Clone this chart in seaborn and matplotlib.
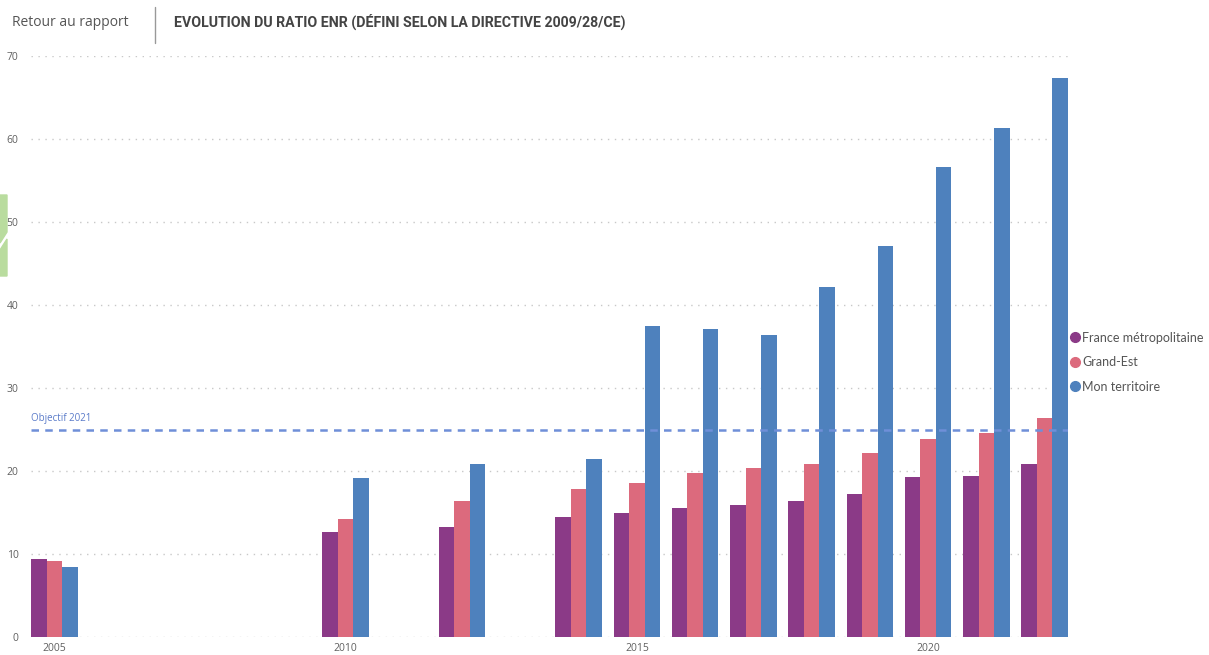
import pandas as pd
import matplotlib.pyplot as plt
import seaborn as sns
from matplotlib.lines import Line2D
from matplotlib.patches import Polygon

# Data
annees = [2005, 2010, 2012, 2014, 2015, 2016, 2017, 2018, 2019, 2020, 2021, 2022]
france = [9.4, 12.7, 13.3, 14.4, 14.9, 15.5, 15.9, 16.4, 17.2, 19.3, 19.4, 20.8]
grand_est = [9.2, 14.2, 16.4, 17.8, 18.6, 19.8, 20.4, 20.8, 22.2, 23.8, 24.6, 26.4]
territoire = [8.4, 19.2, 20.8, 21.4, 37.5, 37.1, 36.4, 42.2, 47.1, 56.6, 61.3, 67.3]
zones = ["France métropolitaine", "Grand-Est", "Mon territoire"]
couleurs = ["#8b3a87", "#dc6a7d", "#4e81bd"]
objectif = 25
y_ticks = [0, 10, 20, 30, 40, 50, 60, 70]
x_ticks = [2005, 2010, 2015, 2020]

# Long format for seaborn
df = pd.DataFrame({
    "annee": annees * 3,
    "ratio": france + grand_est + territoire,
    "zone": [zones[0]] * len(annees) + [zones[1]] * len(annees) + [zones[2]] * len(annees),
})

sns.set_style("white")
plt.rcParams["font.family"] = ["Open Sans", "DejaVu Sans"]

fig = plt.figure(figsize=(12.09, 6.55), dpi=100)
ax = fig.add_axes([31 / 1209, 18 / 655, (1068 - 31) / 1209, (637 - 56) / 655])

sns.barplot(
    data=df, x="annee", y="ratio", hue="zone", hue_order=zones,
    palette=couleurs, native_scale=True, width=0.8, saturation=1,
    linewidth=0, legend=False, ax=ax
)

# objective line
ax.axhline(objectif, color="#6f8fd8", lw=1.8, linestyle=(0, (3, 2.5)), zorder=3)
ax.text(2004.6, objectif + 0.7, "Objectif 2021", color="#5a7bc9", fontsize=7, va="bottom", ha="left")

ax.set_xlim(2004.6, 2022.4)
ax.set_ylim(0, 70)
ax.set_yticks(y_ticks)
ax.set_xticks(x_ticks)
ax.set_xticklabels([str(x) for x in x_ticks])
ax.yaxis.grid(True, color="#c8c8c8", linestyle=(0, (1, 4)), linewidth=1)
ax.set_axisbelow(True)
ax.tick_params(axis="both", length=0, labelsize=7.5, labelcolor="#606060")
ax.tick_params(axis="y", pad=9)
ax.tick_params(axis="x", pad=4)
ax.set_xlabel("")
ax.set_ylabel("")
sns.despine(ax=ax, left=True, bottom=True)

# legend on the right
handles = [Line2D([0], [0], marker="o", linestyle="", markersize=7, color=c) for c in couleurs]
fig.legend(
    handles, zones, loc="center left", bbox_to_anchor=(1056 / 1209, 1 - 362 / 655),
    frameon=False, labelcolor="#555555", handletextpad=0.0,
    handlelength=1.2, labelspacing=1.0,
    prop={"family": ["Lato", "DejaVu Sans"], "size": 9}
)

# header
fig.text(12 / 1209, 1 - 22 / 655, "Retour au rapport", fontsize=10, color="#555555", va="center")
fig.add_artist(Line2D([155 / 1209, 155 / 1209], [1 - 7 / 655, 1 - 43 / 655], color="#999999", lw=1))
fig.text(174 / 1209, 1 - 22 / 655, "EVOLUTION DU RATIO ENR (DÉFINI SELON LA DIRECTIVE 2009/28/CE)",
         fontsize=10.2, color="#444444", va="center", fontweight="bold",
         family=["Roboto", "DejaVu Sans"])

# green piece of the page at the left border
fig.add_artist(Polygon([(0, 1 - 195 / 655), (7 / 1209, 1 - 195 / 655), (7 / 1209, 1 - 232 / 655), (0, 1 - 243 / 655)],
                       closed=True, color="#b9dc9e", transform=fig.transFigure))
fig.add_artist(Polygon([(0, 1 - 250 / 655), (7 / 1209, 1 - 239 / 655), (7 / 1209, 1 - 276 / 655), (0, 1 - 276 / 655)],
                       closed=True, color="#b9dc9e", transform=fig.transFigure))

fig.savefig("out.png", dpi=100)
